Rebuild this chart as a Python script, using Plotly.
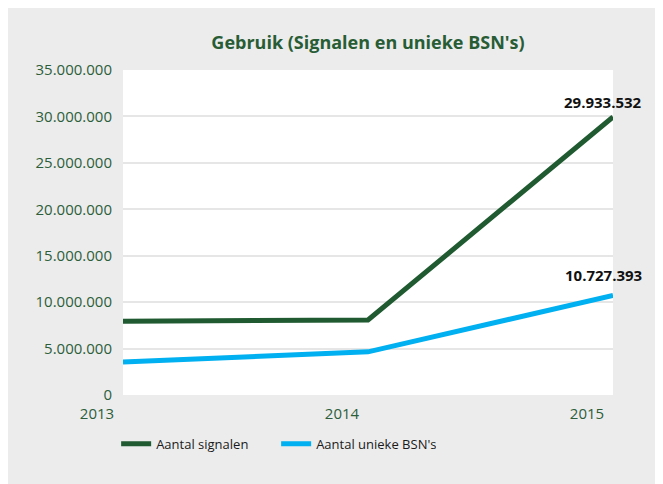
import plotly.graph_objects as go

jaren = [2013, 2014, 2015]
signalen = [7940000, 8080000, 29933532]
unieke_bsn = [3550000, 4650000, 10727393]
y_ticks = [0, 5000000, 10000000, 15000000, 20000000, 25000000, 30000000, 35000000]

GROEN = "#1f5a30"
BLAUW = "#00b0f0"
TEKST = "#2d5e3a"
FONT = "Open Sans"


def nl(v):
    return f"{v:,}".replace(",", ".")


fig = go.Figure()
fig.add_trace(go.Scatter(x=jaren, y=signalen, mode="lines", name="Aantal signalen",
                         line=dict(color=GROEN, width=5)))
fig.add_trace(go.Scatter(x=jaren, y=unieke_bsn, mode="lines", name="Aantal unieke BSN's",
                         line=dict(color=BLAUW, width=5)))

# waardelabels bij 2015
for serie, dy in ((signalen, 15), (unieke_bsn, 20)):
    fig.add_annotation(x=jaren[-1], y=serie[-1], text=nl(serie[-1]), showarrow=False,
                       xshift=-10, yshift=dy, yanchor="middle",
                       font=dict(family=FONT, size=15, color="#111111", weight="bold"))

fig.update_layout(
    width=663, height=484,
    paper_bgcolor="#ececec", plot_bgcolor="white",
    margin=dict(l=115, r=58, t=62, b=97),
    separators=",.",
    font=dict(family=FONT, color=TEKST),
    title=dict(text="<b>Gebruik (Signalen en unieke BSN's)</b>", x=0.5, xref="paper",
               xanchor="center", y=1 - 35 / 484, yref="container", yanchor="middle",
               font=dict(family=FONT, size=18, color="#285c35")),
    xaxis=dict(range=[2013, 2015], tickvals=jaren, ticktext=[str(j) for j in jaren],
               showgrid=False, zeroline=False, showline=False, ticks="",
               ticklabelshift=-26, ticklabelstandoff=8,
               tickfont=dict(family=FONT, size=15, color=TEKST)),
    yaxis=dict(range=[0, 35000000], tickvals=y_ticks, tickformat=",d",
               showgrid=True, gridcolor="#e6e6e6", gridwidth=2, zeroline=False,
               showline=False, ticks="", ticklabelstandoff=10,
               tickfont=dict(family=FONT, size=15, color=TEKST)),
    legend=dict(orientation="h", x=-0.014, xanchor="left", y=-0.15, yanchor="middle",
                bgcolor="rgba(0,0,0,0)", entrywidth=115,
                font=dict(family=FONT, size=13, color="#1a1a1a")),
    showlegend=True,
)

fig.write_html("out.html")
